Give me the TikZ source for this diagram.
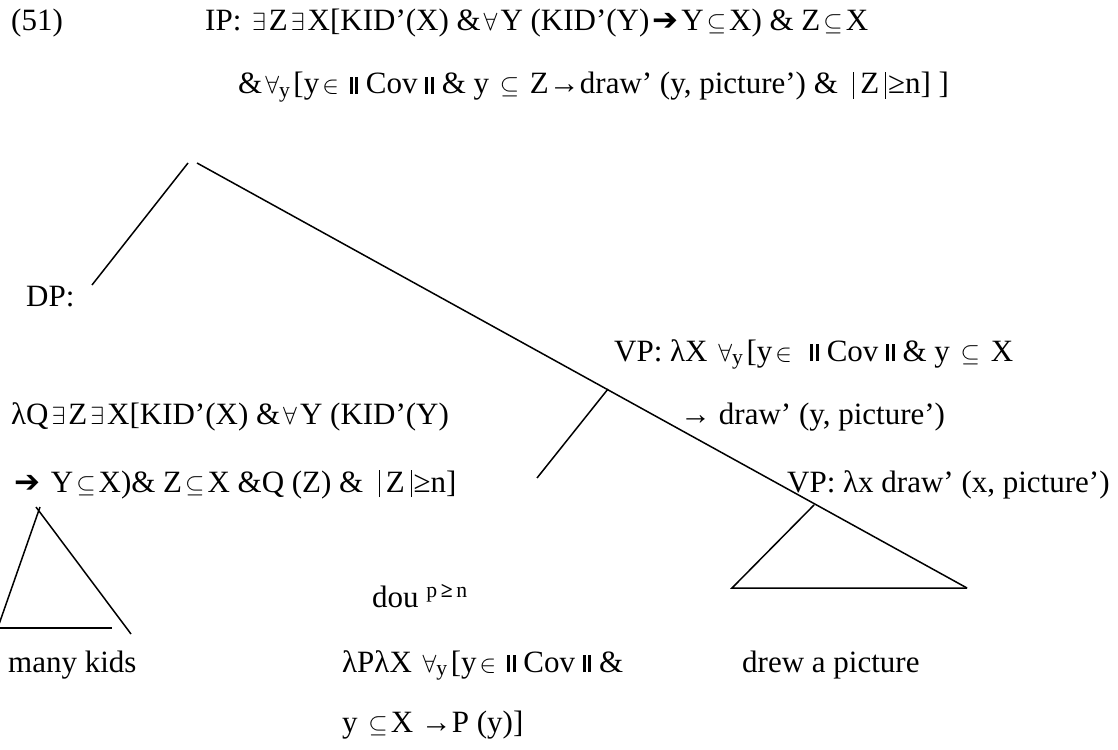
\documentclass[tikz,border=0pt]{standalone}
\usepackage{fontspec}
\setmainfont{Liberation Serif}
\newfontfamily\arrowfont{DejaVu Sans}
\usetikzlibrary{positioning}

% logic symbols
\newcommand{\sym}[1]{\hspace{3pt}$#1$\hspace{3pt}}
\newcommand{\exs}{\sym{\exists}}
\newcommand{\alls}{\sym{\forall}}
\newcommand{\ally}{\hspace{3pt}$\forall$\textsubscript{y}\hspace{3pt}}
\newcommand{\inset}{\sym{\in}}
\newcommand{\subeq}{\sym{\subseteq}}
\newcommand{\fatarrow}{\hspace{3pt}{\arrowfont ➔}\hspace{3pt}}
\newcommand{\dbar}{\rule{3pt}{17pt}\hspace{2.6pt}\rule{3pt}{17pt}}
\newcommand{\card}[1]{\raisebox{-5pt}{\rule{0.9pt}{27pt}}\hspace{6pt}#1\hspace{6pt}\raisebox{-5pt}{\rule{0.9pt}{27pt}}\hspace{2pt}}

\tikzset{
  lbl/.style={anchor=base west, inner sep=0pt, font=\fontsize{31}{36}\selectfont},
  branch/.style={line width=1.5pt},
}

\begin{document}
\begin{tikzpicture}[x=1pt,y=-1pt]
  \useasboundingbox (0,0) rectangle (1118,749);

  % IP
  \node[lbl] (num) at (11,31) {(51)};
  \node[lbl] (ip1) at (205,31) {IP: \exs Z\exs X[KID’(X) \&\alls Y (KID’(Y)\fatarrow Y\subeq X) \& Z\subeq X};
  \node[lbl] (ip2) at (238,94) {\&\ally[y\inset\ \dbar\ Cov \dbar\ \& y \subeq\ Z→draw’ (y, picture’) \& \ \card{Z}≥n] ]};

  % DP
  \node[lbl] (dp) at (26,306) {DP:};
  \node[lbl] (dp1) at (11,424) {λQ\exs Z\exs X[KID’(X) \&\alls Y (KID’(Y)};
  \node[lbl] (dp2) at (11,492) {\fatarrow\ Y\subeq X)\& Z\subeq X \&Q (Z) \& \ \card{Z}≥n]};
  \node[lbl] (kids) at (8,672) {many kids};

  % VP
  \node[lbl] (vp1) at (614,361) {VP: λX \ally [y\inset\ \ \dbar\ Cov \dbar\ \& y \subeq\ X};
  \node[lbl] (vp1b) at (680,424) {→ draw’ (y, picture’)};
  \node[lbl] (vp2) at (787,492) {VP: λx draw’ (x, picture’)};
  \node[lbl] (drew) at (742,672) {drew a picture};

  % dou
  \node[lbl] (dou) at (372,607) {dou \textsuperscript{p\,\textbf{≥}\,n}};
  \node[lbl] (dou1) at (342,672) {λPλX \ally [y\inset\ \dbar\ Cov \dbar\ \&};
  \node[lbl] (dou2) at (342,732) {y \subeq X →P (y)]};

  % branches
  \coordinate (ipL) at (188,163);
  \coordinate (ipR) at (197,163);
  \coordinate (dpTop) at (92,285);
  \coordinate (vpEnd) at (967,588);
  \coordinate (vpJoin) at (608,389);
  \coordinate (douTop) at (537,478);
  \coordinate (drawTop) at (814,505);
  \coordinate (drawL) at (732,588);
  \draw[branch] (ipL) -- (dpTop);
  \draw[branch] (ipR) -- (vpEnd);
  \draw[branch] (vpJoin) -- (douTop);
  \draw[branch] (drawTop) -- (drawL) -- (vpEnd);

  % triangle over many kids
  \coordinate (kidsL) at (-3,630);
  \coordinate (kidsR) at (131,634);
  \draw[branch] (40,507) -- (kidsL);
  \draw[branch] (36,507) -- (kidsR);
  \draw[branch] (0,628) -- (112,628);
\end{tikzpicture}
\end{document}
